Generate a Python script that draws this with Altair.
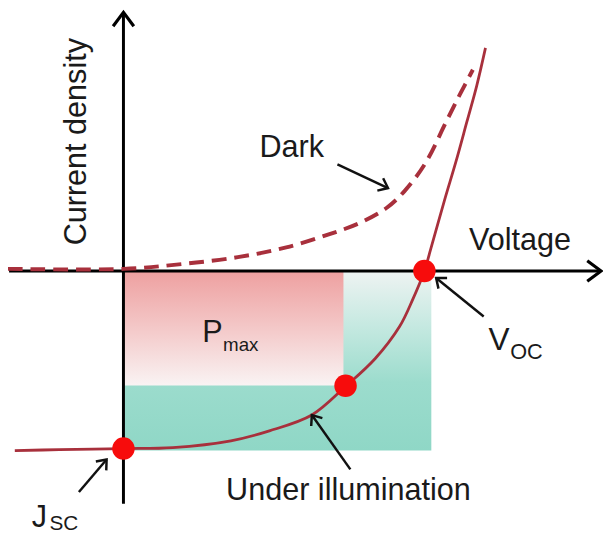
import math
import altair as alt
import pandas as pd

# ---------------- data (normalised units: Voc = 1, Jsc = -1) ----------------
light_v = [-0.361, -0.213, 0.0, 0.164, 0.357, 0.485, 0.626, 0.738, 0.836, 0.918,
           0.961, 1.0, 1.020, 1.066, 1.105, 1.141, 1.174, 1.203]
light_j = [-1.011, -1.006, -1.0, -0.994, -0.956, -0.900, -0.811, -0.650, -0.494, -0.311,
           -0.161, 0.0, 0.117, 0.394, 0.617, 0.839, 1.044, 1.256]

dark_v = [-0.384, 0.0, 0.193, 0.380, 0.541, 0.682, 0.787, 0.875, 0.934, 1.003,
          1.072, 1.118, 1.161]
dark_j = [0.012, 0.012, 0.039, 0.078, 0.133, 0.206, 0.272, 0.356, 0.45, 0.606,
          0.839, 0.994, 1.133]

point_names = ["Jsc", "Pmax", "Voc"]
point_v = [0.0, 0.738, 1.0]
point_j = [-1.0, -0.646, 0.0]

# power rectangles: maximum-power box and Voc x Jsc box
pmax_box_v = [0.0, 0.731]
pmax_box_j = [-0.644, 0.0]
ideal_box_v = [0.0, 1.023]
ideal_box_j = [-1.011, 0.0]

# axis extents
axis_v = [-0.380, 1.587]
axis_j = [-1.311, 1.456]

# annotation arrows (tail -> tip)
arrow_names = ["Dark", "Voc", "Jsc", "Under illumination"]
arrow_v0 = [0.711, 1.197, -0.148, 0.754]
arrow_j0 = [0.600, -0.256, -1.244, -1.117]
arrow_v1 = [0.879, 1.039, -0.056, 0.626]
arrow_j1 = [0.467, -0.039, -1.061, -0.811]

# labels
label_text = ["Voltage", "Dark", "P", "max", "V", "OC", "J", "SC", "Under illumination"]
label_v = [1.148, 0.452, 0.262, 0.331, 1.213, 1.285, -0.305, -0.246, 0.341]
label_j = [0.117, 0.644, -0.400, -0.450, -0.444, -0.494, -1.439, -1.456, -1.289]
label_size = [31, 31, 31, 19, 32, 22, 31, 21, 31]

ylabel_text = ["Current density"]
ylabel_v = [-0.1246]
ylabel_j = [0.728]

# ---------------- layout ----------------
W, H = 603, 526
SX, SY = 305.0, 180.0       # px per unit
OX, OY = 125.0, 271.0       # page position of origin
x_dom = [(8 - OX) / SX, (8 + W - OX) / SX]
y_dom = [(OY - (8 + H)) / SY, (OY - 8) / SY]

FONT = "Liberation Sans, Arial, sans-serif"
RED = "#a8303c"
DOT = "#f70c0c"

X = lambda f: alt.X(f, type="quantitative", scale=alt.Scale(domain=x_dom, nice=False, zero=False), axis=None)
Y = lambda f: alt.Y(f, type="quantitative", scale=alt.Scale(domain=y_dom, nice=False, zero=False), axis=None)


def ang(v0, j0, v1, j1):
    dx = (v1 - v0) * SX
    dy = -(j1 - j0) * SY
    return math.degrees(math.atan2(dx, -dy)) % 360


light_df = pd.DataFrame({"v": light_v, "j": light_j, "i": range(len(light_v))})
dark_df = pd.DataFrame({"v": dark_v, "j": dark_j, "i": range(len(dark_v))})
pts_df = pd.DataFrame({"name": point_names, "v": point_v, "j": point_j})

teal_df = pd.DataFrame({"v0": [ideal_box_v[0]], "v1": [ideal_box_v[1]], "j0": [ideal_box_j[0]], "j1": [ideal_box_j[1]]})
pink_df = pd.DataFrame({"v0": [pmax_box_v[0]], "v1": [pmax_box_v[1]], "j0": [pmax_box_j[0]], "j1": [pmax_box_j[1]]})

axes_df = pd.DataFrame({
    "v0": [axis_v[0], 0.0], "v1": [axis_v[1], 0.0],
    "j0": [0.0, axis_j[0]], "j1": [0.0, axis_j[1]],
})
axes_df["ang"] = [ang(r.v0, r.j0, r.v1, r.j1) for r in axes_df.itertuples()]

arr_df = pd.DataFrame({"name": arrow_names, "v0": arrow_v0, "j0": arrow_j0, "v1": arrow_v1, "j1": arrow_j1})
arr_df["ang"] = [ang(r.v0, r.j0, r.v1, r.j1) for r in arr_df.itertuples()]

lab_df = pd.DataFrame({"t": label_text, "v": label_v, "j": label_j, "fs": label_size})
ylab_df = pd.DataFrame({"t": ylabel_text, "v": ylabel_v, "j": ylabel_j})

teal_grad = alt.Gradient(
    gradient="linear", x1=0, x2=0, y1=0, y2=1,
    stops=[alt.GradientStop(offset=0, color="#eef3f2"),
           alt.GradientStop(offset=0.3, color="#c6e9e1"),
           alt.GradientStop(offset=0.62, color="#9cdccd"),
           alt.GradientStop(offset=1, color="#8fd7c6")])
pink_grad = alt.Gradient(
    gradient="linear", x1=0, x2=0, y1=0, y2=1,
    stops=[alt.GradientStop(offset=0, color="#eea0a0"),
           alt.GradientStop(offset=0.45, color="#f3c4c4"),
           alt.GradientStop(offset=1, color="#f9f3f3")])

teal = alt.Chart(teal_df).mark_rect(fill=teal_grad).encode(x=X("v0"), x2="v1", y=Y("j0"), y2="j1")
pink = alt.Chart(pink_df).mark_rect(fill=pink_grad).encode(x=X("v0"), x2="v1", y=Y("j0"), y2="j1")

axes = alt.Chart(axes_df).mark_rule(color="black", strokeWidth=3).encode(x=X("v0"), x2="v1", y=Y("j0"), y2="j1")
axes_heads = alt.Chart(axes_df).mark_point(
    shape="M -0.75 1 L 0 0 L 0.75 1", filled=False, color="black", strokeWidth=3.2, size=784, opacity=1
).encode(x=X("v1"), y=Y("j1"), angle=alt.Angle("ang:Q", scale=None))

dark = alt.Chart(dark_df).mark_line(color=RED, strokeWidth=4, strokeDash=[15, 8], interpolate="catmull-rom").encode(
    x=X("v"), y=Y("j"), order="i:Q")
light = alt.Chart(light_df).mark_line(color=RED, strokeWidth=2.8, interpolate="catmull-rom").encode(
    x=X("v"), y=Y("j"), order="i:Q")

dots = alt.Chart(pts_df).mark_point(filled=True, color=DOT, size=520, opacity=1, shape="circle").encode(
    x=X("v"), y=Y("j"))

arrows = alt.Chart(arr_df).mark_rule(color="#111111", strokeWidth=2.5).encode(x=X("v0"), x2="v1", y=Y("j0"), y2="j1")
arrow_heads = alt.Chart(arr_df).mark_point(
    shape="M -0.8 1 L 0 0 L 0.8 1", filled=False, color="#111111", strokeWidth=2.5, size=300, opacity=1
).encode(x=X("v1"), y=Y("j1"), angle=alt.Angle("ang:Q", scale=None))

labels = alt.Chart(lab_df).mark_text(align="left", baseline="alphabetic", font=FONT, color="#1a1a1a").encode(
    x=X("v"), y=Y("j"), text="t:N", size=alt.Size("fs:Q", scale=None))
ylab = alt.Chart(ylab_df).mark_text(align="center", baseline="alphabetic", font=FONT, color="#1a1a1a",
                                    angle=270, fontSize=31).encode(x=X("v"), y=Y("j"), text="t:N")

chart = alt.layer(teal, pink, axes, axes_heads, dark, light, dots, arrows, arrow_heads, labels, ylab).properties(
    width=W, height=H, padding=0, autosize=alt.AutoSizeParams(type="none"), background="white"
).configure_view(stroke=None)

chart.save("out.html", embed_options={"renderer": "svg", "actions": False})
